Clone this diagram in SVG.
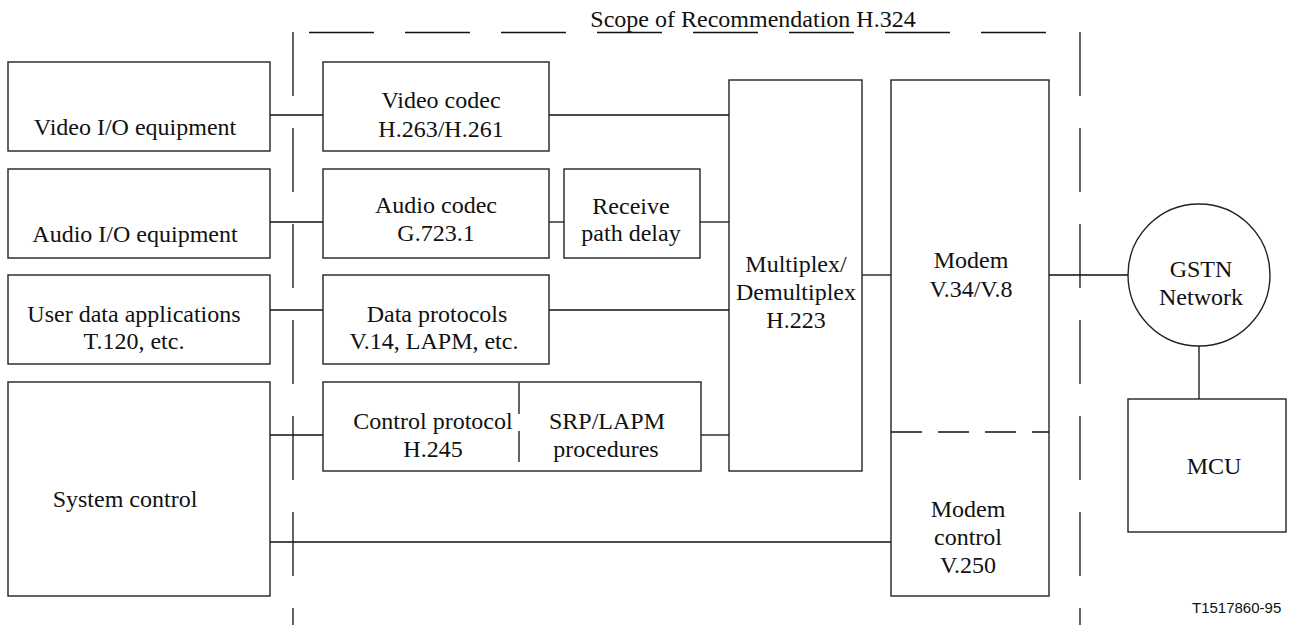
<svg xmlns="http://www.w3.org/2000/svg" width="1289" height="625" viewBox="0 0 1289 625">
<style>
.box{fill:#fff;stroke:#222;stroke-width:1.4}
.ln{fill:none;stroke:#111;stroke-width:1.3}
.scope{fill:none;stroke:#111;stroke-width:1.3}
text{font-family:"Liberation Serif","Times New Roman",serif;font-size:24px;fill:#111;text-anchor:middle}
.ref{font-family:"Liberation Sans",Arial,sans-serif;font-size:15px;text-anchor:start}
</style>
<rect width="1289" height="625" fill="#fff"/>
<g id="scope">
<line class="scope" x1="309" y1="32.5" x2="1046" y2="32.5" stroke-dasharray="65 31"/>
<line class="scope" x1="293" y1="32" x2="293" y2="625" stroke-dasharray="64 32"/>
<line class="scope" x1="1080" y1="32" x2="1080" y2="625" stroke-dasharray="64 32"/>
<text x="753" y="27">Scope of Recommendation H.324</text>
</g>
<g id="connectors">
<line class="ln" x1="270" y1="115" x2="323" y2="115"/>
<line class="ln" x1="549" y1="115" x2="729" y2="115"/>
<line class="ln" x1="270" y1="222" x2="323" y2="222"/>
<line class="ln" x1="549" y1="222" x2="564" y2="222"/>
<line class="ln" x1="700" y1="222" x2="729" y2="222"/>
<line class="ln" x1="270" y1="310" x2="323" y2="310"/>
<line class="ln" x1="549" y1="310" x2="729" y2="310"/>
<line class="ln" x1="270" y1="435" x2="323" y2="435"/>
<line class="ln" x1="701" y1="435" x2="729" y2="435"/>
<line class="ln" x1="270" y1="542" x2="891" y2="542"/>
<line class="ln" x1="862" y1="275" x2="891" y2="275"/>
<line class="ln" x1="1049" y1="275" x2="1128" y2="275"/>
<line class="ln" x1="1199" y1="346" x2="1199" y2="399"/>
</g>
<g id="video-io"><rect class="box" x="8" y="62" width="262" height="89"/><text x="135" y="135">Video I/O equipment</text></g>
<g id="audio-io"><rect class="box" x="8" y="169" width="262" height="89"/><text x="135" y="242">Audio I/O equipment</text></g>
<g id="user-data"><rect class="box" x="8" y="275" width="262" height="89"/><text x="134" y="322">User data applications</text><text x="134" y="349">T.120, etc.</text></g>
<g id="system-control"><rect class="box" x="8" y="382" width="262" height="214"/><text x="125" y="507">System control</text></g>
<g id="video-codec"><rect class="box" x="323" y="62" width="226" height="89"/><text x="441" y="108">Video codec</text><text x="441" y="137">H.263/H.261</text></g>
<g id="audio-codec"><rect class="box" x="323" y="169" width="226" height="89"/><text x="436" y="213">Audio codec</text><text x="436" y="241">G.723.1</text></g>
<g id="receive-delay"><rect class="box" x="564" y="169" width="136" height="89"/><text x="631" y="214">Receive</text><text x="631" y="241">path delay</text></g>
<g id="data-protocols"><rect class="box" x="323" y="275" width="226" height="89"/><text x="437" y="322">Data protocols</text><text x="434" y="349">V.14, LAPM, etc.</text></g>
<g id="control-protocol"><rect class="box" x="323" y="382" width="378" height="89"/>
<line class="ln" x1="519" y1="383" x2="519" y2="414"/><line class="ln" x1="519" y1="431" x2="519" y2="462"/>
<text x="433" y="429">Control protocol</text><text x="433" y="457">H.245</text>
<text x="607" y="429">SRP/LAPM</text><text x="606" y="457">procedures</text></g>
<g id="multiplex"><rect class="box" x="729" y="80" width="133" height="391"/><text x="796" y="272">Multiplex/</text><text x="796" y="300">Demultiplex</text><text x="796" y="328">H.223</text></g>
<g id="modem"><rect class="box" x="891" y="80" width="158" height="516"/>
<line class="ln" x1="891" y1="432" x2="1049" y2="432" stroke-dasharray="31 16"/>
<text x="971" y="268">Modem</text><text x="971" y="297">V.34/V.8</text>
<text x="968" y="517">Modem</text><text x="968" y="545">control</text><text x="968" y="573">V.250</text></g>
<g id="gstn"><circle class="box" cx="1199" cy="275" r="71"/><text x="1201" y="277">GSTN</text><text x="1201" y="305">Network</text></g>
<g id="mcu"><rect class="box" x="1128" y="399" width="158" height="133"/><text x="1214" y="474">MCU</text></g>
<text class="ref" x="1192" y="613">T1517860-95</text>
</svg>
